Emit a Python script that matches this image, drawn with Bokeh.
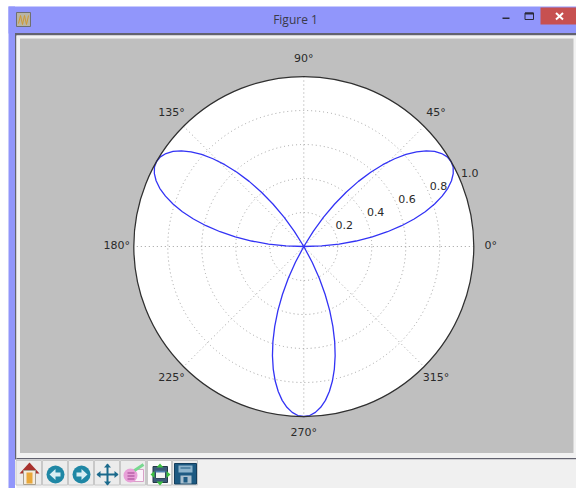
import math
from bokeh.plotting import figure
from bokeh.embed import file_html
from bokeh.resources import INLINE
from bokeh.core.properties import value

# ---- chart data ----
petal_a_theta = list(range(0, 61, 2))
petal_b_theta = list(range(120, 181, 2))
petal_c_theta = list(range(240, 301, 2))
petal_a_r = [0.0, 0.105, 0.208, 0.309, 0.407, 0.5, 0.588, 0.669, 0.743, 0.809, 0.866, 0.914, 0.951, 0.978, 0.995, 1.0,
             0.995, 0.978, 0.951, 0.914, 0.866, 0.809, 0.743, 0.669, 0.588, 0.5, 0.407, 0.309, 0.208, 0.105, 0.0]
petal_b_r = [0.0, 0.105, 0.208, 0.309, 0.407, 0.5, 0.588, 0.669, 0.743, 0.809, 0.866, 0.914, 0.951, 0.978, 0.995, 1.0,
             0.995, 0.978, 0.951, 0.914, 0.866, 0.809, 0.743, 0.669, 0.588, 0.5, 0.407, 0.309, 0.208, 0.105, 0.0]
petal_c_r = [0.0, 0.105, 0.208, 0.309, 0.407, 0.5, 0.588, 0.669, 0.743, 0.809, 0.866, 0.914, 0.951, 0.978, 0.995, 1.0,
             0.995, 0.978, 0.951, 0.914, 0.866, 0.809, 0.743, 0.669, 0.588, 0.5, 0.407, 0.309, 0.208, 0.105, 0.0]
angle_ticks = [0, 45, 90, 135, 180, 225, 270, 315]
angle_labels = ["0°", "45°", "90°", "135°", "180°", "225°", "270°", "315°"]
radial_ticks = [0.2, 0.4, 0.6, 0.8, 1.0]
radial_labels = ["0.2", "0.4", "0.6", "0.8", "1.0"]
window_title = "Figure 1"

# ---- geometry: image pixel -> data units (1 unit = polar radius) ----
CX, CY, R = 303.3, 246.0, 170.0
def X(px): return (px - CX) / R
def Y(py): return (CY - py) / R
def polar(theta_deg, r):
    a = math.radians(theta_deg)
    return r * math.cos(a), r * math.sin(a)

p = figure(width=576, height=488, x_range=(X(0), X(576)), y_range=(Y(488), Y(0)),
           output_backend="svg", toolbar_location=None, min_border=0,
           background_fill_color="white", border_fill_color="white", outline_line_color=None)
p.axis.visible = False
p.grid.visible = False

def rect(x0, y0, x1, y1, color, line=None):
    p.quad(left=[X(x0)], right=[X(x1)], top=[Y(y0)], bottom=[Y(y1)], fill_color=color,
           line_color=line, line_width=1)
def disc(x, y, r, color):
    p.circle(x=[X(x)], y=[Y(y)], radius=r / R, fill_color=color, line_color=None)
def poly(pts, color):
    p.patch([X(a) for a, b in pts], [Y(b) for a, b in pts], fill_color=color, line_color=None)
def seg(x0, y0, x1, y1, color, w=1):
    p.line([X(x0), X(x1)], [Y(y0), Y(y1)], line_color=color, line_width=w)

# ---- window chrome ----
rect(8, 6, 576, 33, "#9196fb")
rect(8, 6, 14.5, 488, "#9196fb")
rect(14.5, 32.5, 576, 35, "#62626f")
rect(14.5, 32.5, 16, 459, "#62626f")
rect(16, 35, 576, 458, "#f2f2f2")
rect(19.5, 38, 573, 452.5, "#bfbfbf")
rect(16, 457.5, 576, 459, "#62626f")
rect(16, 459, 576, 488, "#f0f0f0")
# title bar furniture
rect(16, 12, 30, 26, "#b9b4a4", "#6f6f6f")
p.line([X(x) for x in (18, 20, 22, 24, 26, 28)], [Y(y) for y in (23, 15, 24, 15, 24, 15)], line_color="#d09a30", line_width=1)
rect(540, 7, 576, 24, "#c75050")
seg(555.5, 12.5, 562.5, 19, "white", 2)
seg(562.5, 12.5, 555.5, 19, "white", 2)
rect(502, 17, 509, 18.5, "#2a2a3a")
rect(524.5, 12.5, 533, 19, None, "#2a2a3a")
rect(524.5, 12, 533, 14, "#2a2a3a")
p.text(x=[X(295)], y=[Y(19)], text=[window_title], text_font=value("Open Sans"), text_font_size="12px",
       text_color="#3a3a4a", text_align="center", text_baseline="middle")

# toolbar buttons
for x0, x1 in [(15.5, 42), (42, 68), (68, 94), (94, 120), (120, 146), (146, 172), (172, 198)]:
    rect(x0, 460, x1 - 1, 484.5, "#ececec", "#c8c8c8")
# home
poly([(29, 462), (39, 473), (19, 473)], "#a8322e")
rect(23, 470, 35, 484, "#f3ece0", "#a8a090")
rect(26, 472, 32, 483, "#e9a83a")
# back / forward
for cx, pts in [(55, [(49, 474), (55, 468.5), (55, 472), (60, 472), (60, 476), (55, 476), (55, 479.5)]),
                (81, [(87, 474), (81, 468.5), (81, 472), (76, 472), (76, 476), (81, 476), (81, 479.5)])]:
    disc(cx, 474, 9, "#1f87a5")
    poly(pts, "#d8eef3")
# move
seg(97, 474, 117, 474, "#1b6a8c", 2)
seg(107, 464, 107, 484, "#1b6a8c", 2)
poly([(96, 474), (100, 470.5), (100, 477.5)], "#1b6a8c")
poly([(118, 474), (114, 470.5), (114, 477.5)], "#1b6a8c")
poly([(107, 463), (103.5, 467), (110.5, 467)], "#1b6a8c")
poly([(107, 485), (103.5, 481), (110.5, 481)], "#1b6a8c")
# subplots
rect(128, 469, 143, 481, "#fbf4fb", "#d9a0c8")
disc(130, 475, 7, "#e8a0d8")
rect(127, 472, 134, 473, "#a04090")
rect(127, 475, 134, 476, "#a04090")
rect(127, 478, 134, 479, "#a04090")
seg(134, 470, 143, 464, "#78d890", 3)
# configure
rect(147, 460, 171, 484.5, "#fbfbfb", "#c8c8c8")
rect(152.5, 466, 167, 482, "#3c5a78", "#26384a")
rect(155, 470, 165, 478, "#f4f4f4", "#30485c")
rect(155, 470, 165, 472, "#5080b0")
for pts in [[(159.5, 463), (156, 467), (163, 467)], [(159.5, 485), (156, 481), (163, 481)],
            [(150, 474), (154, 470.5), (154, 477.5)], [(170, 474), (166, 470.5), (166, 477.5)]]:
    poly(pts, "#3cc040")
# save
rect(174, 463, 196, 483.5, "#1d5a82", "#143e5c")
rect(178, 465, 192, 472, "#8db4cc")
seg(180, 467.5, 190, 467.5, "#1d5a82", 1)
rect(180, 475, 191, 483, "#a9bfce")
rect(183, 476.5, 187, 482, "#1d5a82")

# ---- polar axes ----
p.circle(x=[0], y=[0], radius=1.0, fill_color="white", line_color=None)
for rt in radial_ticks[:-1]:
    p.circle(x=[0], y=[0], radius=rt, fill_color=None, line_color="#a0a0a0", line_width=1, line_dash="1 3")
for t in angle_ticks[:4]:
    x1, y1 = polar(t, 1.0)
    p.line([x1, -x1], [y1, -y1], line_color="#a0a0a0", line_width=1, line_dash="1 3")

# ---- curve ----
for thetas, rs in [(petal_a_theta, petal_a_r), (petal_b_theta, petal_b_r), (petal_c_theta, petal_c_r)]:
    xy = [polar(t, r) for t, r in zip(thetas, rs)]
    p.line([a for a, b in xy], [b for a, b in xy], line_color="#3333f5", line_width=1.3)

p.circle(x=[0], y=[0], radius=1.0, fill_color=None, line_color="#303030", line_width=1.25)

# ---- tick labels ----
axy = [polar(t, 1.10) for t in angle_ticks]
p.text(x=[a for a, b in axy], y=[b for a, b in axy], text=angle_labels, text_font=value("DejaVu Sans"),
       text_font_size="11px", text_color="#2a2a2a", text_align="center", text_baseline="middle", y_offset=-1.5)
rxy = [polar(22.5, r) for r in radial_ticks]
p.text(x=[a for a, b in rxy], y=[b for a, b in rxy], text=radial_labels, text_font=value("DejaVu Sans"),
       text_font_size="11px", text_color="#2a2a2a", text_align="center", text_baseline="middle",
       x_offset=9, y_offset=-8.5)

open("out.html", "w").write(file_html(p, INLINE))
